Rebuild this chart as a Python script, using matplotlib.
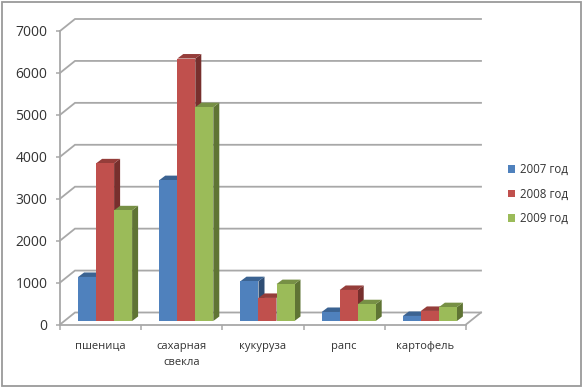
import matplotlib
matplotlib.use("Agg")
from matplotlib import pyplot as plt
from matplotlib.patches import Polygon, Rectangle
import numpy as np

categories = ["пшеница", "сахарная\nсвекла", "кукуруза", "рапс", "картофель"]
series_names = ["2007 год", "2008 год", "2009 год"]
values_2007 = [1050, 3360, 950, 215, 120]
values_2008 = [3760, 6260, 550, 740, 240]
values_2009 = [2640, 5100, 880, 400, 330]
y_ticks = [0, 1000, 2000, 3000, 4000, 5000, 6000, 7000]

face_colors = ["#4F81BD", "#C0504D", "#9BBB59"]
side_colors = ["#2F4E74", "#772F2D", "#5F7434"]
top_colors = ["#3B6392", "#953D3A", "#779045"]
grid_color = "#A8A8A8"
text_color = "#333333"

W, H = 582, 387
plt.rcParams["font.family"] = ["Open Sans", "DejaVu Sans"]
fig = plt.figure(figsize=(W / 100, H / 100), dpi=100, facecolor="white")

# axes box = front plane of the 3d chart, in pixels of the reference
left, right, top, bottom = 60, 466, 31, 324.5
ax = fig.add_axes([left / W, 1 - bottom / H, (right - left) / W, (bottom - top) / H])
ax.set_xlim(0, len(categories))
ax.set_ylim(0, 7000)
ax.patch.set_visible(False)

px_x = len(categories) / (right - left)
px_y = 7000 / (bottom - top)

# back wall and floor
wall_dx, wall_dy = 15 * px_x, 12 * px_y
for t in y_ticks:
    ax.plot([0, wall_dx, 5 + wall_dx], [t, t + wall_dy, t + wall_dy], color=grid_color,
            lw=1.3, clip_on=False, zorder=1, solid_joinstyle="miter")
ax.plot([5, 5 + wall_dx], [0, wall_dy], color=grid_color, lw=1.3, clip_on=False, zorder=1)

# bars with fake depth
bar_w = 18 * px_x
depth_x, depth_y = 6 * px_x, 4.5 * px_y
base = 3.5 * px_y
shift = 4.5 * px_x
z = 3
x = np.arange(len(categories)) + 0.5 + shift
for i, vals in enumerate([values_2007, values_2008, values_2009]):
    for j, v in enumerate(vals):
        x0 = x[j] + (i - 1.5) * bar_w
        x1 = x0 + bar_w
        y1 = base + v
        ax.add_patch(Polygon([(x1, base), (x1 + depth_x, base + depth_y), (x1 + depth_x, y1 + depth_y), (x1, y1)],
                             fc=side_colors[i], ec="none", clip_on=False, zorder=z))
        ax.add_patch(Polygon([(x0, y1), (x0 + depth_x, y1 + depth_y), (x1 + depth_x, y1 + depth_y), (x1, y1)],
                             fc=top_colors[i], ec="none", clip_on=False, zorder=z))
        ax.bar(x0, v, bar_w, bottom=base, align="edge", color=face_colors[i], edgecolor="none",
               clip_on=False, zorder=z + 1)
        z += 2

# axes
for s in ["top", "right"]:
    ax.spines[s].set_visible(False)
for s in ["left", "bottom"]:
    ax.spines[s].set_color(grid_color)
    ax.spines[s].set_linewidth(1.3)
    ax.spines[s].set_zorder(2)
ax.set_yticks(y_ticks)
ax.set_xticks(np.arange(len(categories) + 1))
ax.set_xticklabels([])
ax.set_xticks(np.arange(len(categories)) + 0.5, minor=True)
ax.set_xticklabels(categories, minor=True, linespacing=1.6)
ax.tick_params(axis="y", length=3, width=1.1, color=grid_color, labelcolor=text_color, labelsize=10, pad=6)
ax.tick_params(axis="x", which="major", length=3.5, width=1.1, color=grid_color)
ax.tick_params(axis="x", which="minor", length=0, labelcolor=text_color, labelsize=8, pad=12)

# legend
handles = [Rectangle((0, 0), 1, 1, fc=c, ec="none") for c in face_colors]
fig.legend(handles, series_names, loc="center left", bbox_to_anchor=(508 / W, 1 - 194 / H), frameon=False,
           fontsize=8.3, labelcolor=text_color, handlelength=0.65, handleheight=0.65, handletextpad=0.4,
           labelspacing=1.0, borderpad=0, borderaxespad=0)

# outer frame
fig.add_artist(Rectangle((1.5 / W, 1 / H), (W - 3) / W, (H - 2.5) / H, transform=fig.transFigure,
                         fc="none", ec="#9A9A9A", lw=1.3))

fig.savefig("out.png", dpi=100, facecolor="white")
plt.close()
